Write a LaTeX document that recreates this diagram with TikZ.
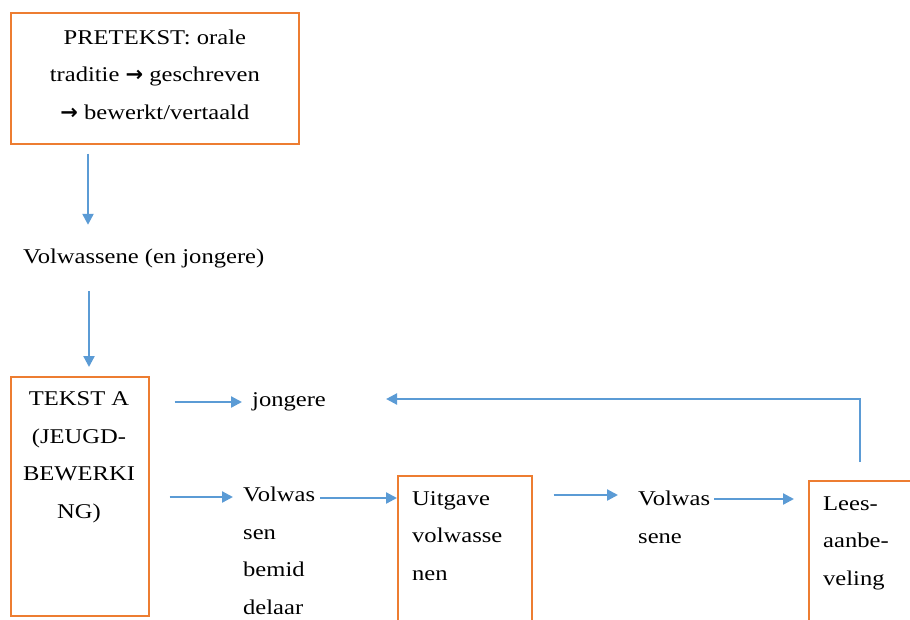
\documentclass[tikz,border=0pt]{standalone}
\usepackage{fontspec}
\setmainfont{Liberation Serif}[FakeStretch=1.17]
\newfontfamily\symf{DejaVu Sans}
\usetikzlibrary{arrows.meta}
\definecolor{boxor}{HTML}{ED7D31}
\definecolor{arrbl}{HTML}{5B9BD5}
\begin{document}
\begin{tikzpicture}[x=1pt,y=-1pt,
  font=\fontsize{21}{37.5}\selectfont,
  box/.style={draw=boxor, line width=1.7pt, inner sep=0pt, anchor=north west},
  txt/.style={inner sep=0pt, anchor=base west, align=left},
  arr/.style={draw=arrbl, line width=2.3pt, -{Triangle[length=11pt,width=11pt]}}]
\clip (0,0) rectangle (910,619);
% boxes
\node[box, minimum width=288pt, minimum height=131pt, align=center, text depth=8pt] (b1) at (10,12)
  {PRETEKST: orale\\traditie {\symf\bfseries\char"2192} geschreven\\{\symf\bfseries\char"2192} bewerkt/vertaald};
\node[box, minimum width=138pt, minimum height=239pt] (b2) at (10,376) {};
\node[box, minimum width=134pt, minimum height=200pt] (b3) at (397,475) {};
\node[box, minimum width=140pt, minimum height=200pt] (b4) at (808,480) {};
% texts (base anchor = last line)
\node[txt, text height=15pt, text depth=5pt] (vol) at (23,263) {Volwassene (en jongere)};
\node[inner sep=0pt, anchor=base, align=center] (ta) at (79,518) {TEKST A\\(JEUGD-\\BEWERKI\\NG)};
\node[txt, text height=10pt, text depth=5pt] (jong) at (252,406) {jongere};
\node[txt] (vs) at (243,614) {Volwas\\sen\\bemid\\delaar};
\node[txt] (uv) at (412,580) {Uitgave\\volwasse\\nen};
\node[txt] (vw) at (638,543) {Volwas\\sene};
\node[txt] (la) at (823,585) {Lees-\\aanbe-\\veling};
% connectors
\draw[arr, shorten <=9pt, shorten >=23pt] ([xshift=78pt]b1.south west) -- ([xshift=78pt]b1.south west |- vol.north);
\draw[arr, shorten <=23pt, shorten >=9pt] ([xshift=79pt]b2.north west |- vol.south) -- ([xshift=79pt]b2.north west);
\draw[arr, shorten <=25pt, shorten >=10pt] ([yshift=-26pt]b2.north east) -- ([yshift=-26pt]b2.north east -| jong.west);
\draw[arr, shorten <=20pt, shorten >=10pt] ([yshift=-121pt]b2.north east) -- ([yshift=-121pt]b2.north east -| vs.west);
\draw[arr, shorten <=5pt] ([yshift=-23pt]b3.north west -| vs.east) -- ([yshift=-23pt]b3.north west);
\draw[arr, shorten <=21pt, shorten >=20pt] ([yshift=-20pt]b3.north east) -- ([yshift=-20pt]b3.north east -| vw.west);
\draw[arr, shorten <=4pt, shorten >=14pt] ([yshift=-19pt]b4.north west -| vw.east) -- ([yshift=-19pt]b4.north west);
\draw[arr, shorten <=18pt] ([xshift=52pt]b4.north west) |- ([xshift=60pt]jong.east |- 0,399);
\end{tikzpicture}
\end{document}
